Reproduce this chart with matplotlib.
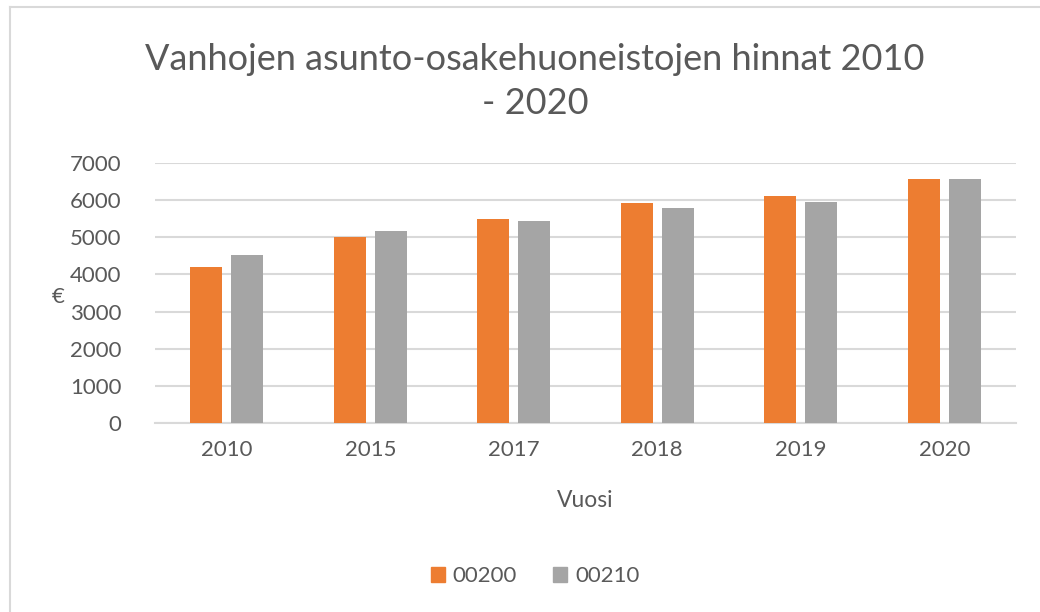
import matplotlib
matplotlib.use("Agg")
import matplotlib.pyplot as plt
from matplotlib.lines import Line2D
from matplotlib.patches import Patch
import numpy as np

years = ["2010", "2015", "2017", "2018", "2019", "2020"]
prices_00200 = [4200, 5020, 5500, 5915, 6105, 6580]
prices_00210 = [4535, 5180, 5430, 5800, 5955, 6580]

ORANGE = "#ED7D31"
GRAY = "#A5A5A5"
TEXT = "#595959"
GRID = "#D9D9D9"

plt.rcParams["font.family"] = ["Lato", "DejaVu Sans"]

fig = plt.figure(figsize=(10.4, 6.12), dpi=100)
ax = fig.add_axes([155 / 1040, 1 - 423 / 612, (1016 - 155) / 1040, 260 / 612])

x = np.arange(len(years))
w = 0.223
off = 0.143
ax.bar(x - off, prices_00200, w, color=ORANGE, zorder=3)
ax.bar(x + off, prices_00210, w, color=GRAY, zorder=3)

ax.set_xlim(-0.5, len(years) - 0.5)
ax.set_ylim(0, 7000)
ax.set_yticks(range(0, 7001, 1000))
ax.set_xticks(x)
ax.set_xticklabels(years)
ax.yaxis.grid(True, color=GRID, linewidth=1.5, zorder=0)
for s in ["top", "right", "left"]:
    ax.spines[s].set_visible(False)
ax.spines["bottom"].set_color(GRID)
ax.spines["bottom"].set_linewidth(1.5)
ax.tick_params(axis="both", length=0, labelsize=16, colors=TEXT)
ax.tick_params(axis="y", pad=24)
ax.tick_params(axis="x", pad=12)

ax.set_xlabel("Vuosi", fontsize=16.5, color=TEXT, labelpad=22)
fig.text(58 / 1040, 1 - 297 / 612, "€", fontsize=16, color=TEXT,
         ha="center", va="center")

fig.text(535 / 1040, 1 - 60 / 612, "Vanhojen asunto-osakehuoneistojen hinnat 2010",
         fontsize=26, color=TEXT, ha="center", va="center")
fig.text(535 / 1040, 1 - 103 / 612, "- 2020",
         fontsize=26, color=TEXT, ha="center", va="center")

handles = [Patch(color=ORANGE, label="00200"), Patch(color=GRAY, label="00210")]
fig.legend(handles=handles, loc="center", bbox_to_anchor=(535 / 1040, 1 - 576 / 612),
           ncol=2, frameon=False, fontsize=16, handlelength=0.65, handleheight=0.65,
           handletextpad=0.35, columnspacing=1.6, labelcolor=TEXT)

# chart area frame (only left and top edges are visible in the crop)
fig.add_artist(Line2D([10 / 1040, 10 / 1040], [0, 1 - 7 / 612], color=GRID, linewidth=1.5))
fig.add_artist(Line2D([10 / 1040, 1], [1 - 7 / 612, 1 - 7 / 612], color=GRID, linewidth=1.5))

fig.savefig("out.png", dpi=100)
